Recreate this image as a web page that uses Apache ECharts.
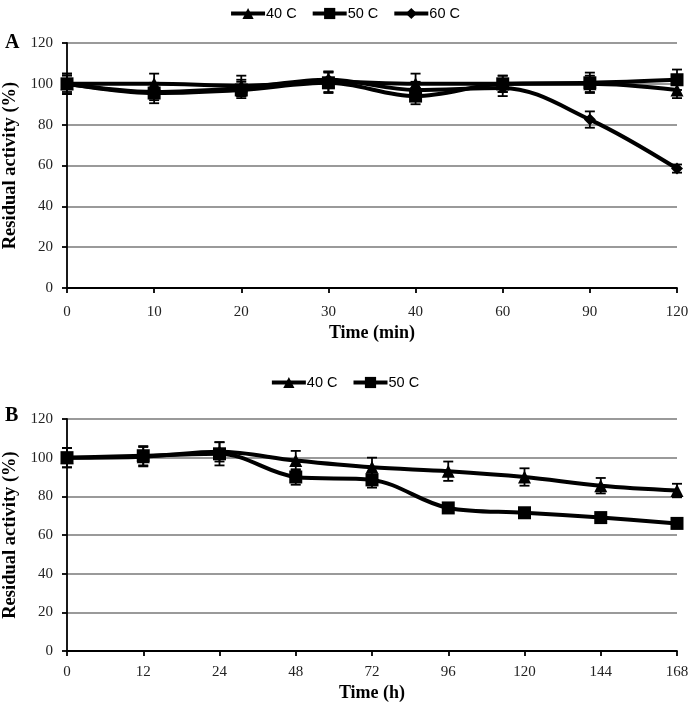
<!DOCTYPE html>
<html><head><meta charset="utf-8">
<script src="https://cdn.jsdelivr.net/npm/echarts@6/dist/echarts.min.js"></script>
<style>html,body{margin:0;padding:0;background:#fff}#c{width:689px;height:710px}</style>
</head><body><div id="c"></div>
<script>
const topCats = ['0','10','20','30','40','60','90','120'];
const top40 = [100,100,99,101,100,100,100,97];
const top50 = [100,95.5,97,100.5,94,100,100.5,102];
const top60 = [100,96,98,102,97,98,82.5,58.5];
const top40Err = [5,5,5,5,5,4,4,4];
const top50Err = [5,5,4,5,4,4,5,5];
const top60Err = [4,4,4,4,4,4,4,2];

const botCats = ['0','12','24','48','72','96','120','144','168'];
const bot40 = [100,100.5,103,98.5,95,93,90,85.5,83];
const bot50 = [100,101,102,90,88.5,74,71.5,69,66];
const bot40Err = [5,5,5,5,5,5,4.5,4,3.5];
const bot50Err = [5,5,6,4,4,2,2,2,2];

const yTicks = [0,20,40,60,80,100,120];

const serif = '"Liberation Serif","Times New Roman",serif';
const sans = '"Liberation Sans",Arial,sans-serif';

const chart = echarts.init(document.getElementById('c'));

function errSeries(vals, errs, xi, yi){
  return {
    type:'custom', xAxisIndex:xi, yAxisIndex:yi, silent:true, z:1,
    data: vals.map((v,i)=>[i, v, errs[i]]),
    encode:{x:0,y:1},
    renderItem:function(params, api){
      const i = api.value(0), v = api.value(1), e = api.value(2);
      const hi = api.coord([i, v+e]);
      const lo = api.coord([i, v-e]);
      const w = 5;
      const st = {stroke:'#000', lineWidth:1.8};
      return {type:'group', children:[
        {type:'line', shape:{x1:hi[0],y1:hi[1],x2:lo[0],y2:lo[1]}, style:st},
        {type:'line', shape:{x1:hi[0]-w,y1:hi[1],x2:hi[0]+w,y2:hi[1]}, style:st},
        {type:'line', shape:{x1:lo[0]-w,y1:lo[1],x2:lo[0]+w,y2:lo[1]}, style:st}
      ]};
    }
  };
}

function lineSeries(name, data, sym, size, xi, yi){
  return {
    name:name, type:'line', data:data, xAxisIndex:xi, yAxisIndex:yi,
    smooth:0.35, symbol:sym, symbolSize:size, z:3,
    lineStyle:{color:'#000', width:4},
    itemStyle:{color:'#000'}
  };
}

const diamond = 'path://M0,-1 L1,0 L0,1 L-1,0 Z';

function xAxisCfg(cats, gi, name, gap, margin){
  return {
    type:'category', gridIndex:gi, data:cats, boundaryGap:false,
    name:name, nameLocation:'middle', nameGap:gap,
    nameTextStyle:{fontFamily:serif, fontWeight:'bold', fontSize:18, color:'#000'},
    axisLine:{lineStyle:{color:'#000', width:1.8}},
    axisTick:{show:true, alignWithLabel:true, length:5, lineStyle:{color:'#000', width:1.8}},
    axisLabel:{fontFamily:serif, fontSize:15, color:'#222', margin:margin},
    splitLine:{show:false}
  };
}
function yAxisCfg(gi){
  return {
    type:'value', gridIndex:gi, min:0, max:120, interval:20,
    name:'Residual activity (%)', nameLocation:'middle', nameGap:46,
    nameTextStyle:{fontFamily:serif, fontWeight:'bold', fontSize:18.5, color:'#000'},
    axisLine:{show:true, lineStyle:{color:'#000', width:1.8}},
    axisTick:{show:true, length:5, lineStyle:{color:'#000', width:1.8}},
    axisLabel:{fontFamily:serif, fontSize:15, color:'#222', margin:14,
      formatter:function(v){ return yTicks.indexOf(v)>=0 ? String(v) : ''; }},
    splitLine:{show:true, lineStyle:{color:'#9a9a9a', width:1.8}}
  };
}

const legendCommon = {
  left:'center', itemWidth:34, itemHeight:14, itemGap:14,
  lineStyle:{width:4},
  textStyle:{fontFamily:sans, fontSize:14.5, color:'#000', padding:[0,0,0,-4]}
};

chart.setOption({
  animation:false,
  backgroundColor:'#fff',
  grid:[
    {left:67, right:12, top:43, height:245, containLabel:false, outerBoundsMode:'none'},
    {left:67, right:12, top:419, height:232, containLabel:false, outerBoundsMode:'none'}
  ],
  legend:[
    Object.assign({data:['40 C','50 C','60 C'], top:1}, legendCommon),
    Object.assign({data:['40 C','50 C'], top:370}, legendCommon)
  ],
  xAxis:[ xAxisCfg(topCats,0,'Time (min)',36,17), xAxisCfg(botCats,1,'Time (h)',33,14) ],
  yAxis:[ yAxisCfg(0), yAxisCfg(1) ],
  graphic:[
    {type:'text', left:5, top:33, style:{text:'A', font:'bold 20px '+serif, fill:'#000'}},
    {type:'text', left:5, top:406, style:{text:'B', font:'bold 20px '+serif, fill:'#000'}}
  ],
  series:[
    errSeries(top40, top40Err, 0, 0),
    errSeries(top50, top50Err, 0, 0),
    errSeries(top60, top60Err, 0, 0),
    lineSeries('40 C', top40, 'triangle', 13, 0, 0),
    lineSeries('50 C', top50, 'rect', 13, 0, 0),
    lineSeries('60 C', top60, diamond, 12, 0, 0),
    errSeries(bot40, bot40Err, 1, 1),
    errSeries(bot50, bot50Err, 1, 1),
    lineSeries('40 C', bot40, 'triangle', 13, 1, 1),
    lineSeries('50 C', bot50, 'rect', 13, 1, 1)
  ]
});
</script></body></html>
